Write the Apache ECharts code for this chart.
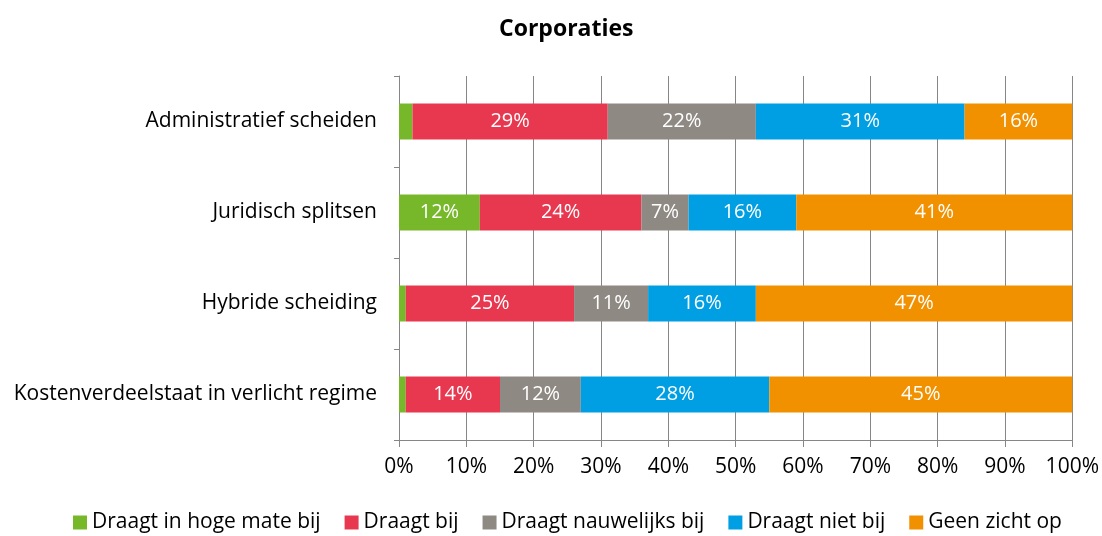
<!DOCTYPE html>
<html>
<head>
<meta charset="utf-8">
<script src="https://cdn.jsdelivr.net/npm/echarts@6/dist/echarts.min.js"></script>
<style>
  html, body { margin: 0; padding: 0; background: #fff; }
  #chart { width: 1102px; height: 536px; }
</style>
</head>
<body>
<div id="chart"></div>
<script>
// categories, top to bottom
var categories = ['Administratief scheiden', 'Juridisch splitsen', 'Hybride scheiding', 'Kostenverdeelstaat in verlicht regime']
var seriesNames = ['Draagt in hoge mate bij', 'Draagt bij', 'Draagt nauwelijks bij', 'Draagt niet bij', 'Geen zicht op']
var hogeMate = [2, 12, 1, 1]
var draagtBij = [29, 24, 25, 14]
var nauwelijks = [22, 7, 11, 12]
var nietBij = [31, 16, 16, 28]
var geenZicht = [16, 41, 47, 45]
var colors = ['#76b82a', '#e8384f', '#8f8983', '#009fe3', '#f29100']

var font = 'Open Sans'
var chart = echarts.init(document.getElementById('chart'))

var values = [hogeMate, draagtBij, nauwelijks, nietBij, geenZicht]
var series = values.map(function (v, i) {
  return {
    name: seriesNames[i],
    type: 'bar',
    stack: 'total',
    barWidth: 36,
    data: v,
    itemStyle: { color: colors[i] },
    label: {
      show: true,
      position: 'inside',
      color: '#fff',
      fontFamily: font,
      fontSize: 20,
      formatter: function (p) { return p.value >= 5 ? p.value + '%' : '' } // kleine stukjes geen label
    }
  }
})

var option = {
  animation: false,
  title: {
    text: 'Corporaties',
    left: 494,
    top: 13,
    textStyle: { fontFamily: font, fontSize: 23, fontWeight: 'bold', color: '#000' }
  },
  grid: { left: 399, right: 28, top: 76, bottom: 96 },
  xAxis: {
    type: 'value',
    min: 0,
    max: 100,
    interval: 10,
    axisLine: { show: true, lineStyle: { color: '#868686' } },
    axisTick: { show: true, length: 7, lineStyle: { color: '#868686' } },
    splitLine: { show: true, lineStyle: { color: '#868686' } },
    axisLabel: { formatter: '{value}%', color: '#000', fontFamily: font, fontSize: 21, margin: 17 }
  },
  yAxis: {
    type: 'category',
    inverse: true,
    data: categories,
    axisLine: { show: true, lineStyle: { color: '#868686' } },
    axisTick: { show: true, length: 5, lineStyle: { color: '#868686' } },
    axisLabel: { color: '#000', fontFamily: font, fontSize: 21, margin: 22 }
  },
  legend: {
    top: 507,
    left: 68,
    itemWidth: 14,
    itemHeight: 14,
    itemGap: 24,
    icon: 'rect',
    textStyle: { fontFamily: font, fontSize: 21, color: '#000' },
    data: seriesNames
  },
  series: series
}
chart.setOption(option)
</script>
</body>
</html>
